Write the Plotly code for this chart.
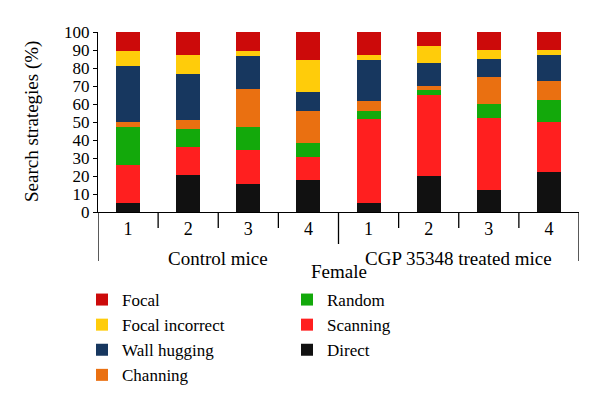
import plotly.graph_objects as go

# ---- data ----
groups = ["Control mice", "CGP 35348 treated mice"]
females = ["1", "2", "3", "4", "1", "2", "3", "4"]

direct = [5.2, 20.4, 15.7, 18.0, 5.2, 20.0, 12.4, 22.4]
scanning = [21.1, 15.5, 18.6, 12.7, 46.3, 44.8, 40.0, 27.6]
random_ = [20.9, 10.0, 12.7, 7.4, 4.8, 2.8, 7.4, 12.4]
channing = [2.8, 5.4, 21.5, 18.2, 5.4, 2.6, 15.2, 10.2]
wall_hugging = [31.3, 25.4, 18.2, 10.2, 22.6, 12.4, 9.8, 14.6]
focal_incorrect = [8.1, 10.3, 2.7, 17.9, 2.7, 9.6, 5.0, 2.6]
focal = [10.6, 13.0, 10.6, 15.6, 13.0, 7.8, 10.2, 10.2]

y_ticks = list(range(0, 101, 10))

series = [
    ("Direct", direct, "#111111", "legend2"),
    ("Scanning", scanning, "#FF1F1F", "legend2"),
    ("Random", random_, "#13A90B", "legend2"),
    ("Channing", channing, "#EA7011", "legend"),
    ("Wall hugging", wall_hugging, "#17375F", "legend"),
    ("Focal incorrect", focal_incorrect, "#FFCC0A", "legend"),
    ("Focal", focal, "#CC0A0A", "legend"),
]

FONT = "Liberation Serif, Times New Roman, serif"
xs = list(range(len(females)))

fig = go.Figure()
for name, vals, color, leg in series:
    fig.add_trace(go.Bar(
        x=xs, y=vals, name=name, marker=dict(color=color, line=dict(width=0)),
        width=0.4, legend=leg,
    ))

# page body adds an 8px offset; margins compensate for it
W, H = 600, 407
ml, mr, mt, mb = 90, 29, 24, 203
ph = H - mt - mb
pw = W - ml - mr

def py(px):
    return -px / ph

shapes = []
n = len(females)
for i in range(n - 1):
    b = i + 0.5
    if i == 3:
        continue
    shapes.append(dict(type="line", xref="x", yref="paper", x0=b, x1=b,
                       y0=0, y1=py(16), line=dict(color="black", width=1.3)))
for b, ln in [(-0.5, 49), (3.5, 32), (n - 0.5, 49)]:
    shapes.append(dict(type="line", xref="x", yref="paper", x0=b, x1=b,
                       y0=0, y1=py(ln), line=dict(color="black", width=1.3)))

tf = dict(size=19, family=FONT, color="black")
annotations = [
    dict(text="Control mice", x=1.5, y=py(46), xref="x", yref="paper",
         showarrow=False, font=tf, yanchor="middle"),
    dict(text="CGP 35348 treated mice", x=5.5, y=py(46), xref="x", yref="paper",
         showarrow=False, font=tf, yanchor="middle"),
    dict(text="Female", x=3.5, y=py(59), xref="x", yref="paper",
         showarrow=False, font=tf, yanchor="middle"),
    dict(text="Search strategies (%)", x=-66 / pw, y=0.5, xref="paper", yref="paper",
         textangle=-90, showarrow=False, font=tf, xanchor="center", yanchor="middle"),
]

fig.update_layout(
    width=W, height=H,
    margin=dict(l=ml, r=mr, t=mt, b=mb, autoexpand=False),
    paper_bgcolor="white", plot_bgcolor="white",
    barmode="stack",
    font=dict(family=FONT, size=17, color="black"),
    xaxis=dict(range=[-0.5, n - 0.5], tickvals=xs, ticktext=females, showline=True,
               linecolor="black", linewidth=1.3, ticks="", showgrid=False, zeroline=False,
               automargin=False, tickfont=dict(size=18, family=FONT, color="black")),
    yaxis=dict(range=[0, 100], tickvals=y_ticks, showline=True, linecolor="black",
               linewidth=1.3, ticks="outside", ticklen=4, tickwidth=1.3, tickcolor="black",
               showgrid=False, zeroline=False, automargin=False,
               tickfont=dict(size=17, family=FONT, color="black")),
    legend=dict(x=-16 / pw, xanchor="left", y=py(70), yanchor="top",
                traceorder="reversed", font=dict(size=17, family=FONT, color="black"),
                bgcolor="rgba(0,0,0,0)", itemclick=False),
    legend2=dict(x=189 / pw, xanchor="left", y=py(70), yanchor="top",
                 traceorder="reversed", font=dict(size=17, family=FONT, color="black"),
                 bgcolor="rgba(0,0,0,0)", itemclick=False),
    shapes=shapes,
    annotations=annotations,
    showlegend=True,
)

fig.write_html("out.html")
